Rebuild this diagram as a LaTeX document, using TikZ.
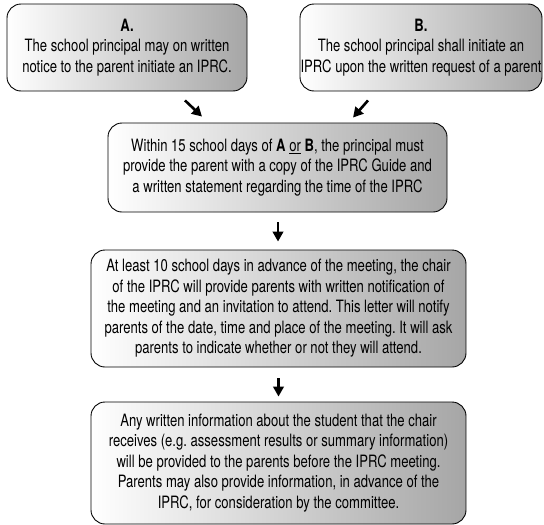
\documentclass[tikz,border=0pt]{standalone}
\usepackage{fontspec}
\setmainfont[FakeStretch=0.77]{TeX Gyre Heros}
\usetikzlibrary{arrows.meta}
\frenchspacing
\begin{document}
\begin{tikzpicture}[x=1pt,y=-1pt,
	box/.style={draw,rounded corners=14pt,line width=0.9pt,left color=white,right color=black!35,
		inner sep=0pt,align=center,font=\fontsize{17}{20.5}\selectfont},
	arr/.style={line width=2.6pt,-{Triangle[length=10pt,width=10.5pt]}}]
	\useasboundingbox (0,0) rectangle (544,525);
	\node[box,minimum width=240,minimum height=87] (A) at (127,47.5)
		{\textbf{A.}\\The school principal may on written\\notice to the parent initiate an IPRC.};
	\node[box,minimum width=242,minimum height=87] (B) at (421,47.5)
		{\textbf{B.}\\The school principal shall initiate an\\IPRC upon the written request of a parent};
	\node[box,minimum width=339,minimum height=89] (one) at (277.5,167.5)
		{Within 15 school days of \textbf{A} \underline{or} \textbf{B}, the principal must\\
		provide the parent with a copy of the IPRC Guide and\\
		a written statement regarding the time of the IPRC};
	\node[box,minimum width=375,minimum height=117] (two) at (278.5,308.5)
		{At least 10 school days in advance of the meeting, the chair\\
		of the IPRC will provide parents with written notification of\\
		the meeting and an invitation to attend. This letter will notify\\
		parents of the date, time and place of the meeting. It will ask\\
		parents to indicate whether or not they will attend.};
	\node[box,minimum width=375,minimum height=122] (three) at (278.5,463)
		{Any written information about the student that the chair\\
		receives (e.g. assessment results or summary information)\\
		will be provided to the parents before the IPRC meeting.\\
		Parents may also provide information, in advance of the\\
		IPRC, for consideration by the committee.};
	\draw[arr] ([shift={(58,9)}]A.south) -- ([shift={(-75.5,-6)}]one.north);
	\draw[arr] ([shift={(-53,9)}]B.south) -- ([shift={(75.5,-5)}]one.north);
	\draw[arr] ([shift={(0.5,10)}]one.south) -- ([shift={(-0.5,-8)}]two.north);
	\draw[arr] ([shift={(0,11)}]two.south) -- ([shift={(0,-5)}]three.north);
\end{tikzpicture}
\end{document}
